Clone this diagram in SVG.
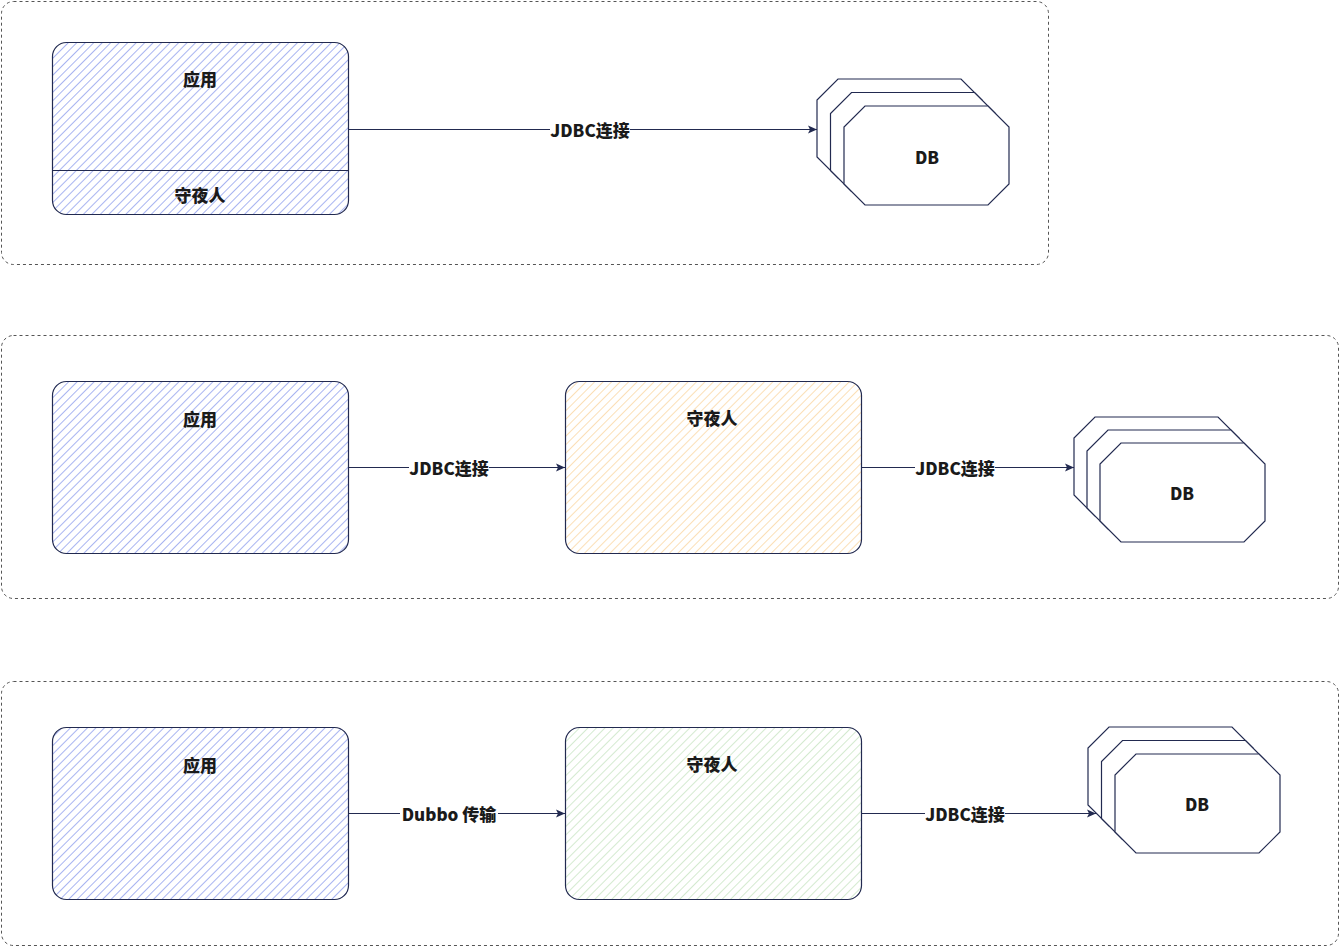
<svg xmlns="http://www.w3.org/2000/svg" width="1341" height="948" viewBox="0 0 1341 948">
<defs>
<pattern id="hb" patternUnits="userSpaceOnUse" width="6" height="6" patternTransform="rotate(45)"><rect width="6" height="6" fill="#fff"/><line x1="0" y1="0" x2="0" y2="6" stroke="#9eacf0" stroke-width="1.8"/></pattern>
<pattern id="ho" patternUnits="userSpaceOnUse" width="6" height="6" patternTransform="rotate(45)"><rect width="6" height="6" fill="#fff"/><line x1="0" y1="0" x2="0" y2="6" stroke="#fbdcae" stroke-width="1.8"/></pattern>
<pattern id="hg" patternUnits="userSpaceOnUse" width="6" height="6" patternTransform="rotate(45)"><rect width="6" height="6" fill="#fff"/><line x1="0" y1="0" x2="0" y2="6" stroke="#cfe8cb" stroke-width="1.8"/></pattern>
<marker id="arr" markerWidth="10" markerHeight="10" refX="9" refY="5" orient="auto" markerUnits="userSpaceOnUse"><path d="M0,1 L9,5 L0,9 L2,5 Z" fill="#222a50"/></marker>
<polygon id="oct" points="21,0 144,0 165,21 165,78 144,99 21,99 0,78 0,21" fill="#fff" stroke="#222a50" stroke-width="1.2"/>
</defs>
<style>
.cont{fill:none;stroke:#555;stroke-width:1;stroke-dasharray:3,3}
.box{stroke:#222a50;stroke-width:1.2}
.t{font-family:"Noto Sans CJK SC","Noto Sans",sans-serif;font-weight:900;font-size:17px;fill:#1a1a1a;text-anchor:middle;dominant-baseline:central}
.c{stroke:#222a50;stroke-width:1.2;fill:none;marker-end:url(#arr)}
.lb{fill:#fff}
</style>
<g id="containers">
<rect class="cont" x="1.5" y="1.5" width="1047" height="263" rx="12"/>
<rect class="cont" x="1.5" y="335.5" width="1337" height="263" rx="12"/>
<rect class="cont" x="1.5" y="681.5" width="1337" height="264" rx="12"/>
</g>
<g id="app1">
<rect class="box" x="52.5" y="42.5" width="296" height="172" rx="14" fill="url(#hb)"/>
<line x1="52.5" y1="170.5" x2="348.5" y2="170.5" stroke="#222a50" stroke-width="1.2"/>
<text class="t" x="200" y="78">应用</text>
<text class="t" x="200" y="194">守夜人</text>
</g>
<g id="db1">
<use href="#oct" x="817" y="79"/><use href="#oct" x="830.5" y="92.5"/><use href="#oct" x="844" y="106"/>
<text class="t" x="927" y="156">DB</text>
</g>
<g id="app2"><rect class="box" x="52.5" y="381.5" width="296" height="172" rx="14" fill="url(#hb)"/><text class="t" x="200" y="418">应用</text></g>
<g id="guard2"><rect class="box" x="565.5" y="381.5" width="296" height="172" rx="14" fill="url(#ho)"/><text class="t" x="712" y="417">守夜人</text></g>
<g id="db2">
<use href="#oct" x="1074" y="417"/><use href="#oct" x="1087" y="430"/><use href="#oct" x="1100" y="443"/>
<text class="t" x="1182" y="492">DB</text>
</g>
<g id="app3"><rect class="box" x="52.5" y="727.5" width="296" height="172" rx="14" fill="url(#hb)"/><text class="t" x="200" y="764">应用</text></g>
<g id="guard3"><rect class="box" x="565.5" y="727.5" width="296" height="172" rx="14" fill="url(#hg)"/><text class="t" x="712" y="763">守夜人</text></g>
<g id="db3">
<use href="#oct" x="1088" y="727"/><use href="#oct" x="1101.5" y="740.5"/><use href="#oct" x="1115" y="754"/>
<text class="t" x="1197" y="803">DB</text>
</g>
<g id="connectors">
<line class="c" x1="349" y1="129.5" x2="817" y2="129.5"/>
<rect class="lb" x="550" y="119" width="80" height="21"/><text class="t" x="590" y="129">JDBC连接</text>
<line class="c" x1="349" y1="467.5" x2="565" y2="467.5"/>
<rect class="lb" x="409" y="457" width="80" height="21"/><text class="t" x="449" y="467">JDBC连接</text>
<line class="c" x1="862" y1="467.5" x2="1074" y2="467.5"/>
<rect class="lb" x="915" y="457" width="80" height="21"/><text class="t" x="955" y="467">JDBC连接</text>
<line class="c" x1="349" y1="813.5" x2="565" y2="813.5"/>
<rect class="lb" x="400" y="803" width="98" height="21"/><text class="t" x="449" y="813">Dubbo 传输</text>
<line class="c" x1="862" y1="813.5" x2="1096" y2="813.5"/>
<rect class="lb" x="925" y="803" width="80" height="21"/><text class="t" x="965" y="813">JDBC连接</text>
</g>
</svg>
